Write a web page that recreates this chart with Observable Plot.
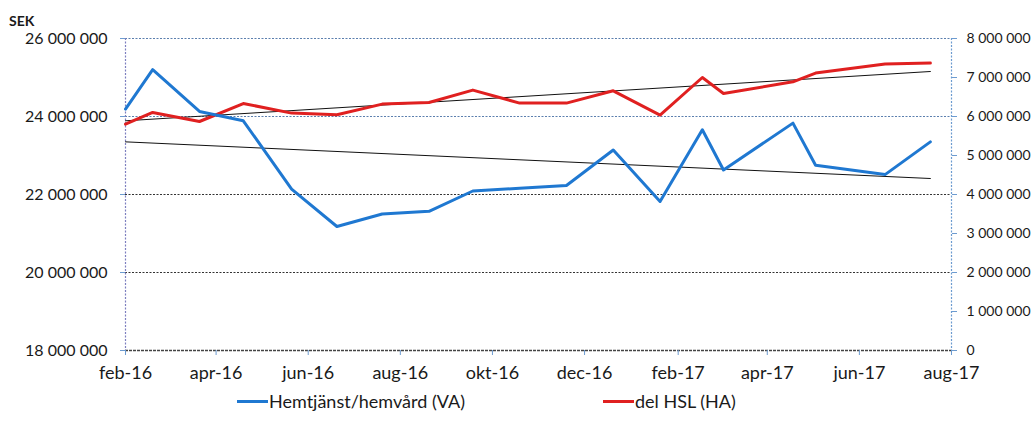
<!DOCTYPE html>
<html>
<head>
<meta charset="utf-8">
<script src="https://cdn.jsdelivr.net/npm/d3@7"></script>
<script src="https://cdn.jsdelivr.net/npm/@observablehq/plot@0.6"></script>
<style>
  html, body { margin: 0; padding: 0; background: #fff; }
  #wrap { position: relative; width: 1032px; height: 436px; font-family: Lato, "Open Sans", sans-serif; color: #1a1a1a; }
  #sek { position: absolute; left: 9px; top: 12px; font-weight: bold; font-size: 14px; }
  #legend { position: absolute; top: 390px; left: 0; width: 1032px; font-size: 18px; }
  .item { position: absolute; display: flex; align-items: center; }
  .sw { display: inline-block; width: 31px; height: 3px; margin-right: 1px; }
</style>
</head>
<body>
<div id="wrap">
  <div id="sek">SEK</div>
  <div id="chart"></div>
  <div id="legend">
    <div class="item" style="left:237px"><span class="sw" style="background:#1f78d1"></span><span>Hemtjänst/hemvård (VA)</span></div>
    <div class="item" style="left:603px"><span class="sw" style="background:#e02020"></span><span>del HSL (HA)</span></div>
  </div>
</div>
<script>
// ---- data ----
const dates = [
  "2016-02-01", "2016-02-19", "2016-03-21", "2016-04-19", "2016-05-21", "2016-06-20",
  "2016-07-20", "2016-08-20", "2016-09-18", "2016-10-19", "2016-11-19", "2016-12-20",
  "2017-01-20", "2017-02-17", "2017-03-03", "2017-04-18", "2017-05-03", "2017-06-18", "2017-07-18"
];
// Hemtjänst/hemvård (VA) – left axis, SEK
const hemtjanstVA = [
  24190000, 25200000, 24130000, 23890000, 22140000, 21180000,
  21500000, 21570000, 22090000, 22160000, 22230000, 23140000,
  21820000, 23660000, 22630000, 23830000, 22750000, 22510000, 23350000
];
// del HSL (HA) – right axis, SEK
const delHslHA = [
  5805000, 6103000, 5872000, 6333000, 6087000, 6044000,
  6318000, 6359000, 6677000, 6344000, 6344000, 6659000,
  6036000, 7000000, 6590000, 6890000, 7113000, 7344000, 7369000
];
// linear trend lines (values at first and last date)
const trendDates = ["2016-02-01", "2017-07-18"];
const trendVA = [23350000, 22410000];
const trendHA = [5890000, 7154000];

const leftTicks = [18000000, 20000000, 22000000, 24000000, 26000000];
const rightTicks = [0, 1000000, 2000000, 3000000, 4000000, 5000000, 6000000, 7000000, 8000000];
const xTickDates = ["2016-02-01", "2016-04-01", "2016-06-01", "2016-08-01", "2016-10-01",
  "2016-12-01", "2017-02-01", "2017-04-01", "2017-06-01", "2017-08-01"];
const xTickLabels = ["feb-16", "apr-16", "jun-16", "aug-16", "okt-16",
  "dec-16", "feb-17", "apr-17", "jun-17", "aug-17"];

// ---- build ----
const parse = d3.utcParse("%Y-%m-%d");
const offset = 18000000; // right axis 0 aligns with left axis 18 000 000
const blue = dates.map((d, i) => ({date: parse(d), value: hemtjanstVA[i]}));
const red = dates.map((d, i) => ({date: parse(d), value: delHslHA[i] + offset}));
const blueTrend = trendDates.map((d, i) => ({date: parse(d), value: trendVA[i]}));
const redTrend = trendDates.map((d, i) => ({date: parse(d), value: trendHA[i] + offset}));
const tickDates = xTickDates.map(parse);
const labelMap = new Map(tickDates.map((d, i) => [+d, xTickLabels[i]]));
const fmt = v => d3.format(",")(v).replace(/,/g, " ");

const chart = Plot.plot({
  width: 1032,
  height: 390,
  marginLeft: 125,
  marginRight: 81,
  marginTop: 38,
  marginBottom: 40,
  style: {fontFamily: "Lato, 'Open Sans', sans-serif", fontSize: "16px", color: "#1a1a1a", background: "transparent", overflow: "visible"},
  x: {type: "utc", domain: [tickDates[0], tickDates[tickDates.length - 1]]},
  y: {domain: [leftTicks[0], leftTicks[leftTicks.length - 1]]},
  marks: [
    Plot.ruleY(leftTicks.slice(3), {stroke: "#5b7fae", strokeWidth: 1.2, strokeDasharray: "2,1.5"}),
    Plot.ruleY(leftTicks.slice(1, 3), {stroke: "#333", strokeWidth: 1.2, strokeDasharray: "2,1.5"}),
    Plot.ruleY(leftTicks.slice(0, 1), {stroke: "#444", strokeWidth: 1.3, strokeDasharray: "3,1"}),
    Plot.ruleX([tickDates[0]], {stroke: "#7d7fbf", strokeWidth: 1.2, strokeDasharray: "2,1.5"}),
    Plot.ruleX([tickDates[tickDates.length - 1]], {stroke: "#6c9bd0", strokeWidth: 1.2, strokeDasharray: "2,1.5"}),
    Plot.line(blueTrend, {x: "date", y: "value", stroke: "#111", strokeWidth: 1}),
    Plot.line(redTrend, {x: "date", y: "value", stroke: "#111", strokeWidth: 1}),
    Plot.line(red, {x: "date", y: "value", stroke: "#e02020", strokeWidth: 3}),
    Plot.line(blue, {x: "date", y: "value", stroke: "#1f78d1", strokeWidth: 3}),
    Plot.axisX({ticks: tickDates, tickFormat: d => labelMap.get(+d), tickSize: 5, tickPadding: 11,
      stroke: "#6c9bd0", fontSize: 18, label: null}),
    Plot.axisY({anchor: "left", ticks: leftTicks, tickFormat: fmt, tickSize: 5, tickPadding: 13,
      stroke: "#6c9bd0", fontSize: 16, label: null}),
    Plot.axisY({anchor: "right", ticks: rightTicks.map(v => v + offset), tickFormat: d => fmt(d - offset),
      tickSize: 5, tickPadding: 10, stroke: "#6c9bd0", fontSize: 14, label: null})
  ]
});
document.getElementById("chart").appendChild(chart);
</script>
</body>
</html>
